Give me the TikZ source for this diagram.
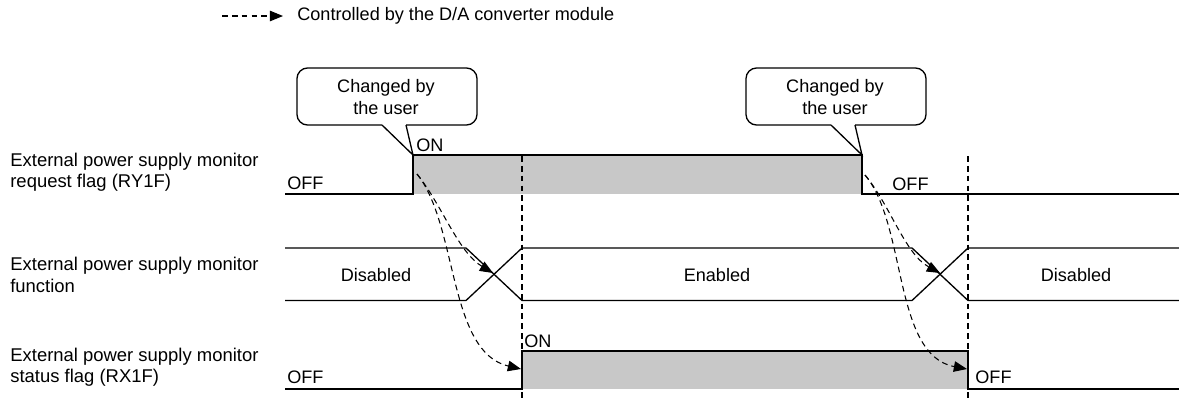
\documentclass[tikz,border=0pt]{standalone}
\usepackage{fontspec}
\setmainfont{Liberation Sans}
\usetikzlibrary{arrows.meta}
\definecolor{flaggray}{RGB}{200,200,200}

\begin{document}
\begin{tikzpicture}[x=0.02cm, y=-0.02cm,
    every node/.style={font=\fontsize{10.3}{12.2}\selectfont, inner sep=0pt},
    sig/.style={line width=0.75pt},
    guide/.style={dash pattern=on 3.3pt off 2.3pt, line width=0.6pt},
    ctrl/.style={guide, -{Triangle[length=7.5pt,width=6pt]}},
    bubble/.style={line width=0.75pt, rounded corners=6pt},
    rowlbl/.style={anchor=west, align=left, font=\fontsize{10.5}{12.2}\selectfont},
    lvl/.style={anchor=base west}]
  \useasboundingbox (0,0) rectangle (1179,400);
  % legend
  \coordinate (leg0) at (222,16);
  \coordinate (leg1) at (283,16);
  \draw[ctrl] (leg0) -- (leg1);
  \node[anchor=west] (legtxt) at (297,16) {Controlled by the D/A converter module};
  % signal names
  \foreach \r/\y/\txt in {req/172.5/request flag (RY1F), fun/275/function, sts/367.5/status flag (RX1F)} {
    \node[rowlbl] (lbl-\r) at (10,\y) {External power supply monitor\\\txt};
  }
  % gray ON areas
  \fill[flaggray] (413,155) rectangle (862,194);
  \fill[flaggray] (522,351) rectangle (968,389);
  \foreach \x in {522,968} \draw[guide] (\x,156) -- (\x,400);
  % RY1F
  \draw[sig] (285,194) -- (413,194) -- (413,155) -- (862,155) -- (862,194) -- (1179,194);
  % monitor function
  \draw[sig] (285,248) -- (466,248) -- (522,300.5) -- (912,300.5) -- (968,248) -- (1179,248);
  \draw[sig] (285,300.5) -- (466,300.5) -- (522,248) -- (912,248) -- (968,300.5) -- (1179,300.5);
  % RX1F
  \draw[sig] (285,389) -- (522,389) -- (522,351) -- (968,351) -- (968,389) -- (1179,389);
  % levels
  \foreach \n/\x/\y/\t in {offA/287/189.5/OFF, onA/416/151/ON, offB/892/190/OFF, offC/287/383/OFF, onC/524/347/ON, offD/975/383/OFF}
    \node[lvl] (\n) at (\x,\y) {\t};
  \foreach \n/\x/\t in {disA/376/Disabled, ena/717/Enabled, disB/1076/Disabled}
    \node (\n) at (\x,275) {\t};
  % callouts
  \foreach \n/\tip in {L/413, R/862} {
    \node[align=center] (chg\n) at (\tip-27,97) {Changed by\\the user};
    \draw[bubble] (\tip-7,125) -- (\tip+64,125) -- (\tip+64,68) -- (\tip-116,68) -- (\tip-116,125) -- (\tip-31,125);
    \draw[sig] (\tip-31,125) -- (\tip,155) -- (\tip-7,125);
  }
  % controlled by the module
  \coordinate (srcL) at (417,174);
  \coordinate (xL) at (493,273);
  \coordinate (stL) at (521,369);
  \coordinate (srcR) at (865,175);
  \coordinate (xR) at (940,273);
  \coordinate (stR) at (967,369);
  \draw[ctrl] (srcL) .. controls (442,205) and (458,252) .. (xL);
  \draw[ctrl] (srcL) .. controls (458,225) and (448,352) .. (stL);
  \draw[ctrl] (srcR) .. controls (890,205) and (905,254) .. (xR);
  \draw[ctrl] (srcR) .. controls (907,225) and (893,355) .. (stR);
\end{tikzpicture}
\end{document}
